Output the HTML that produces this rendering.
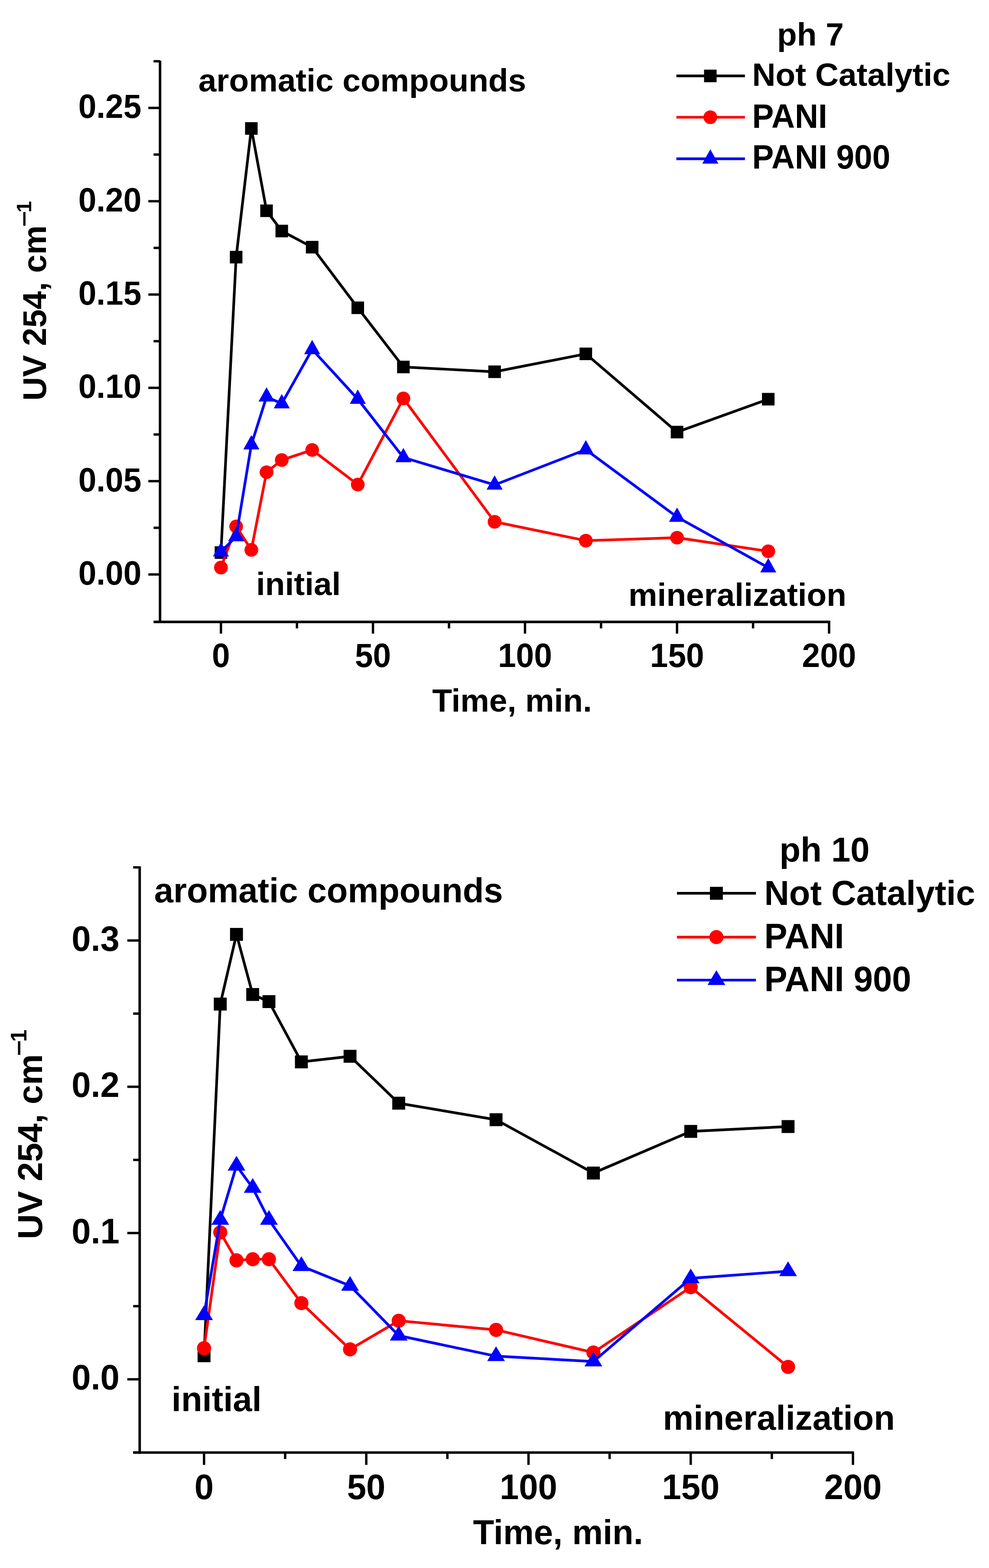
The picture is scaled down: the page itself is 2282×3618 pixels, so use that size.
<!DOCTYPE html>
<html><head><meta charset="utf-8"><title>UV 254 vs Time</title>
<style>
html,body{margin:0;padding:0;background:#fff;}
svg{display:block;}
text{font-family:"Liberation Sans", Arial, sans-serif;font-weight:bold;fill:#000;}
</style></head>
<body>
<svg width="2282" height="3618" viewBox="0 0 2282 3618">
<rect width="2282" height="3618" fill="#fff"/>
<g style="font-size:74.8px"><line x1="369.3" y1="140" x2="369.3" y2="1437.9" stroke="#000" stroke-width="5.8"/>
<line x1="354.3" y1="1435" x2="1915.9" y2="1435" stroke="#000" stroke-width="5.8"/>
<line x1="342.3" y1="1325.50" x2="369.3" y2="1325.50" stroke="#000" stroke-width="5.5"/>
<text transform="translate(326.3,1348.80) scale(1,1.05)" text-anchor="end">0.00</text>
<line x1="342.3" y1="1110.20" x2="369.3" y2="1110.20" stroke="#000" stroke-width="5.5"/>
<text transform="translate(326.3,1133.50) scale(1,1.05)" text-anchor="end">0.05</text>
<line x1="342.3" y1="894.90" x2="369.3" y2="894.90" stroke="#000" stroke-width="5.5"/>
<text transform="translate(326.3,918.20) scale(1,1.05)" text-anchor="end">0.10</text>
<line x1="342.3" y1="679.60" x2="369.3" y2="679.60" stroke="#000" stroke-width="5.5"/>
<text transform="translate(326.3,702.90) scale(1,1.05)" text-anchor="end">0.15</text>
<line x1="342.3" y1="464.30" x2="369.3" y2="464.30" stroke="#000" stroke-width="5.5"/>
<text transform="translate(326.3,487.60) scale(1,1.05)" text-anchor="end">0.20</text>
<line x1="342.3" y1="249.00" x2="369.3" y2="249.00" stroke="#000" stroke-width="5.5"/>
<text transform="translate(326.3,272.30) scale(1,1.05)" text-anchor="end">0.25</text>
<line x1="354.3" y1="1217.85" x2="369.3" y2="1217.85" stroke="#000" stroke-width="5.5"/>
<line x1="354.3" y1="1002.55" x2="369.3" y2="1002.55" stroke="#000" stroke-width="5.5"/>
<line x1="354.3" y1="787.25" x2="369.3" y2="787.25" stroke="#000" stroke-width="5.5"/>
<line x1="354.3" y1="571.95" x2="369.3" y2="571.95" stroke="#000" stroke-width="5.5"/>
<line x1="354.3" y1="356.65" x2="369.3" y2="356.65" stroke="#000" stroke-width="5.5"/>
<line x1="354.3" y1="141.35" x2="369.3" y2="141.35" stroke="#000" stroke-width="5.5"/>
<line x1="509.80" y1="1435" x2="509.80" y2="1462" stroke="#000" stroke-width="5.5"/>
<text transform="translate(509.80,1539.2) scale(1,1.05)" text-anchor="middle">0</text>
<line x1="860.60" y1="1435" x2="860.60" y2="1462" stroke="#000" stroke-width="5.5"/>
<text transform="translate(860.60,1539.2) scale(1,1.05)" text-anchor="middle">50</text>
<line x1="1211.40" y1="1435" x2="1211.40" y2="1462" stroke="#000" stroke-width="5.5"/>
<text transform="translate(1211.40,1539.2) scale(1,1.05)" text-anchor="middle">100</text>
<line x1="1562.20" y1="1435" x2="1562.20" y2="1462" stroke="#000" stroke-width="5.5"/>
<text transform="translate(1562.20,1539.2) scale(1,1.05)" text-anchor="middle">150</text>
<line x1="1913.00" y1="1435" x2="1913.00" y2="1462" stroke="#000" stroke-width="5.5"/>
<text transform="translate(1913.00,1539.2) scale(1,1.05)" text-anchor="middle">200</text>
<line x1="685.20" y1="1435" x2="685.20" y2="1450" stroke="#000" stroke-width="5.5"/>
<line x1="1036.00" y1="1435" x2="1036.00" y2="1450" stroke="#000" stroke-width="5.5"/>
<line x1="1386.80" y1="1435" x2="1386.80" y2="1450" stroke="#000" stroke-width="5.5"/>
<line x1="1737.60" y1="1435" x2="1737.60" y2="1450" stroke="#000" stroke-width="5.5"/>
<polyline points="509.80,1275.00 544.88,593.30 579.96,296.40 615.04,486.30 650.12,533.10 720.28,570.30 825.52,710.20 930.76,846.80 1141.24,857.80 1351.72,816.50 1562.20,997.00 1772.68,921.10" fill="none" stroke="#000" stroke-width="6.2" stroke-linejoin="miter"/>
<rect x="495.30" y="1260.50" width="29" height="29" fill="#000"/>
<rect x="530.38" y="578.80" width="29" height="29" fill="#000"/>
<rect x="565.46" y="281.90" width="29" height="29" fill="#000"/>
<rect x="600.54" y="471.80" width="29" height="29" fill="#000"/>
<rect x="635.62" y="518.60" width="29" height="29" fill="#000"/>
<rect x="705.78" y="555.80" width="29" height="29" fill="#000"/>
<rect x="811.02" y="695.70" width="29" height="29" fill="#000"/>
<rect x="916.26" y="832.30" width="29" height="29" fill="#000"/>
<rect x="1126.74" y="843.30" width="29" height="29" fill="#000"/>
<rect x="1337.22" y="802.00" width="29" height="29" fill="#000"/>
<rect x="1547.70" y="982.50" width="29" height="29" fill="#000"/>
<rect x="1758.18" y="906.60" width="29" height="29" fill="#000"/>
<polyline points="509.80,1309.60 544.88,1214.80 579.96,1268.80 615.04,1089.70 650.12,1061.50 720.28,1038.30 825.52,1118.10 930.76,919.40 1141.24,1204.00 1351.72,1247.50 1562.20,1240.70 1772.68,1272.00" fill="none" stroke="#f00" stroke-width="6.2" stroke-linejoin="miter"/>
<circle cx="509.80" cy="1309.60" r="15.8" fill="#f00"/>
<circle cx="544.88" cy="1214.80" r="15.8" fill="#f00"/>
<circle cx="579.96" cy="1268.80" r="15.8" fill="#f00"/>
<circle cx="615.04" cy="1089.70" r="15.8" fill="#f00"/>
<circle cx="650.12" cy="1061.50" r="15.8" fill="#f00"/>
<circle cx="720.28" cy="1038.30" r="15.8" fill="#f00"/>
<circle cx="825.52" cy="1118.10" r="15.8" fill="#f00"/>
<circle cx="930.76" cy="919.40" r="15.8" fill="#f00"/>
<circle cx="1141.24" cy="1204.00" r="15.8" fill="#f00"/>
<circle cx="1351.72" cy="1247.50" r="15.8" fill="#f00"/>
<circle cx="1562.20" cy="1240.70" r="15.8" fill="#f00"/>
<circle cx="1772.68" cy="1272.00" r="15.8" fill="#f00"/>
<polyline points="509.80,1273.00 544.88,1238.00 579.96,1026.00 615.04,915.50 650.12,931.30 720.28,806.20 825.52,920.80 930.76,1055.60 1141.24,1118.80 1351.72,1037.40 1562.20,1192.90 1772.68,1309.80" fill="none" stroke="#00f" stroke-width="6.2" stroke-linejoin="miter"/>
<path d="M509.80,1251.00 L528.30,1284.00 L491.30,1284.00 Z" fill="#00f"/>
<path d="M544.88,1216.00 L563.38,1249.00 L526.38,1249.00 Z" fill="#00f"/>
<path d="M579.96,1004.00 L598.46,1037.00 L561.46,1037.00 Z" fill="#00f"/>
<path d="M615.04,893.50 L633.54,926.50 L596.54,926.50 Z" fill="#00f"/>
<path d="M650.12,909.30 L668.62,942.30 L631.62,942.30 Z" fill="#00f"/>
<path d="M720.28,784.20 L738.78,817.20 L701.78,817.20 Z" fill="#00f"/>
<path d="M825.52,898.80 L844.02,931.80 L807.02,931.80 Z" fill="#00f"/>
<path d="M930.76,1033.60 L949.26,1066.60 L912.26,1066.60 Z" fill="#00f"/>
<path d="M1141.24,1096.80 L1159.74,1129.80 L1122.74,1129.80 Z" fill="#00f"/>
<path d="M1351.72,1015.40 L1370.22,1048.40 L1333.22,1048.40 Z" fill="#00f"/>
<path d="M1562.20,1170.90 L1580.70,1203.90 L1543.70,1203.90 Z" fill="#00f"/>
<path d="M1772.68,1287.80 L1791.18,1320.80 L1754.18,1320.80 Z" fill="#00f"/>
<line x1="1560.7" y1="175.2" x2="1718.8" y2="175.2" stroke="#000" stroke-width="6.2"/>
<rect x="1624.50" y="160.70" width="29" height="29" fill="#000"/>
<line x1="1560.7" y1="270.5" x2="1718.8" y2="270.5" stroke="#f00" stroke-width="6.2"/>
<circle cx="1639.00" cy="270.50" r="15.8" fill="#f00"/>
<line x1="1560.7" y1="366.4" x2="1718.8" y2="366.4" stroke="#00f" stroke-width="6.2"/>
<path d="M1639.00,344.40 L1657.50,377.40 L1620.50,377.40 Z" fill="#00f"/>
<text x="457.75" y="210.6">aromatic compounds</text>
<text x="591" y="1372.7">initial</text>
<text x="1450.1" y="1397.7">mineralization</text>
<text x="1793.1" y="105.1">ph 7</text>
<text x="1735.6" y="198.2">Not Catalytic</text>
<text transform="translate(1735.6,295) scale(1,1.05)">PANI</text>
<text transform="translate(1735.6,389.4) scale(1,1.05)">PANI 900</text>
<text x="997.25" y="1642">Time, min.</text>
<text transform="translate(106,924.6) rotate(-90)" style="font-size:75.8px">UV 254, cm</text>
<text transform="translate(72,523.5) rotate(-90) scale(1.32,1)" style="font-size:48px">&#8722;</text>
<text transform="translate(72,490.5) rotate(-90)" style="font-size:48px">1</text></g>
<g style="font-size:79.6px"><line x1="322.3" y1="1999" x2="322.3" y2="3354.5" stroke="#000" stroke-width="5.8"/>
<line x1="307.3" y1="3351.6" x2="1970.3000000000002" y2="3351.6" stroke="#000" stroke-width="5.8"/>
<line x1="293.8" y1="3182.60" x2="322.3" y2="3182.60" stroke="#000" stroke-width="5.5"/>
<text transform="translate(275.8,3206.20) scale(1,1.03)" text-anchor="end">0.0</text>
<line x1="293.8" y1="2845.10" x2="322.3" y2="2845.10" stroke="#000" stroke-width="5.5"/>
<text transform="translate(275.8,2868.70) scale(1,1.03)" text-anchor="end">0.1</text>
<line x1="293.8" y1="2507.60" x2="322.3" y2="2507.60" stroke="#000" stroke-width="5.5"/>
<text transform="translate(275.8,2531.20) scale(1,1.03)" text-anchor="end">0.2</text>
<line x1="293.8" y1="2170.10" x2="322.3" y2="2170.10" stroke="#000" stroke-width="5.5"/>
<text transform="translate(275.8,2193.70) scale(1,1.03)" text-anchor="end">0.3</text>
<line x1="307.3" y1="3351.35" x2="322.3" y2="3351.35" stroke="#000" stroke-width="5.5"/>
<line x1="307.3" y1="3013.85" x2="322.3" y2="3013.85" stroke="#000" stroke-width="5.5"/>
<line x1="307.3" y1="2676.35" x2="322.3" y2="2676.35" stroke="#000" stroke-width="5.5"/>
<line x1="307.3" y1="2338.85" x2="322.3" y2="2338.85" stroke="#000" stroke-width="5.5"/>
<line x1="307.3" y1="2001.35" x2="322.3" y2="2001.35" stroke="#000" stroke-width="5.5"/>
<line x1="470.80" y1="3351.6" x2="470.80" y2="3380.1" stroke="#000" stroke-width="5.5"/>
<text transform="translate(470.80,3458.7) scale(1,1.03)" text-anchor="middle">0</text>
<line x1="845.12" y1="3351.6" x2="845.12" y2="3380.1" stroke="#000" stroke-width="5.5"/>
<text transform="translate(845.12,3458.7) scale(1,1.03)" text-anchor="middle">50</text>
<line x1="1219.45" y1="3351.6" x2="1219.45" y2="3380.1" stroke="#000" stroke-width="5.5"/>
<text transform="translate(1219.45,3458.7) scale(1,1.03)" text-anchor="middle">100</text>
<line x1="1593.78" y1="3351.6" x2="1593.78" y2="3380.1" stroke="#000" stroke-width="5.5"/>
<text transform="translate(1593.78,3458.7) scale(1,1.03)" text-anchor="middle">150</text>
<line x1="1968.10" y1="3351.6" x2="1968.10" y2="3380.1" stroke="#000" stroke-width="5.5"/>
<text transform="translate(1968.10,3458.7) scale(1,1.03)" text-anchor="middle">200</text>
<line x1="657.96" y1="3351.6" x2="657.96" y2="3366.6" stroke="#000" stroke-width="5.5"/>
<line x1="1032.29" y1="3351.6" x2="1032.29" y2="3366.6" stroke="#000" stroke-width="5.5"/>
<line x1="1406.61" y1="3351.6" x2="1406.61" y2="3366.6" stroke="#000" stroke-width="5.5"/>
<line x1="1780.94" y1="3351.6" x2="1780.94" y2="3366.6" stroke="#000" stroke-width="5.5"/>
<polyline points="470.80,3128.30 508.23,2316.80 545.66,2156.00 583.10,2294.70 620.53,2311.10 695.39,2450.20 807.69,2437.30 919.99,2545.50 1144.59,2583.60 1369.18,2706.70 1593.78,2610.60 1818.37,2599.40" fill="none" stroke="#000" stroke-width="6.2" stroke-linejoin="miter"/>
<rect x="455.90" y="3113.40" width="29.8" height="29.8" fill="#000"/>
<rect x="493.33" y="2301.90" width="29.8" height="29.8" fill="#000"/>
<rect x="530.76" y="2141.10" width="29.8" height="29.8" fill="#000"/>
<rect x="568.20" y="2279.80" width="29.8" height="29.8" fill="#000"/>
<rect x="605.63" y="2296.20" width="29.8" height="29.8" fill="#000"/>
<rect x="680.50" y="2435.30" width="29.8" height="29.8" fill="#000"/>
<rect x="792.79" y="2422.40" width="29.8" height="29.8" fill="#000"/>
<rect x="905.09" y="2530.60" width="29.8" height="29.8" fill="#000"/>
<rect x="1129.68" y="2568.70" width="29.8" height="29.8" fill="#000"/>
<rect x="1354.28" y="2691.80" width="29.8" height="29.8" fill="#000"/>
<rect x="1578.88" y="2595.70" width="29.8" height="29.8" fill="#000"/>
<rect x="1803.47" y="2584.50" width="29.8" height="29.8" fill="#000"/>
<polyline points="470.80,3110.90 508.23,2843.60 545.66,2908.10 583.10,2905.50 620.53,2905.50 695.39,3006.80 807.69,3113.50 919.99,3047.50 1144.59,3068.60 1369.18,3120.80 1593.78,2970.00 1818.37,3154.00" fill="none" stroke="#f00" stroke-width="6.2" stroke-linejoin="miter"/>
<circle cx="470.80" cy="3110.90" r="16.3" fill="#f00"/>
<circle cx="508.23" cy="2843.60" r="16.3" fill="#f00"/>
<circle cx="545.66" cy="2908.10" r="16.3" fill="#f00"/>
<circle cx="583.10" cy="2905.50" r="16.3" fill="#f00"/>
<circle cx="620.53" cy="2905.50" r="16.3" fill="#f00"/>
<circle cx="695.39" cy="3006.80" r="16.3" fill="#f00"/>
<circle cx="807.69" cy="3113.50" r="16.3" fill="#f00"/>
<circle cx="919.99" cy="3047.50" r="16.3" fill="#f00"/>
<circle cx="1144.59" cy="3068.60" r="16.3" fill="#f00"/>
<circle cx="1369.18" cy="3120.80" r="16.3" fill="#f00"/>
<circle cx="1593.78" cy="2970.00" r="16.3" fill="#f00"/>
<circle cx="1818.37" cy="3154.00" r="16.3" fill="#f00"/>
<polyline points="470.80,3034.60 508.23,2814.70 545.66,2689.60 583.10,2741.00 620.53,2814.70 695.39,2921.40 807.69,2966.90 919.99,3081.80 1144.59,3129.20 1369.18,3141.50 1593.78,2949.60 1818.37,2933.20" fill="none" stroke="#00f" stroke-width="6.2" stroke-linejoin="miter"/>
<path d="M470.80,3011.93 L491.30,3045.93 L450.30,3045.93 Z" fill="#00f"/>
<path d="M508.23,2792.03 L528.73,2826.03 L487.73,2826.03 Z" fill="#00f"/>
<path d="M545.66,2666.93 L566.16,2700.93 L525.16,2700.93 Z" fill="#00f"/>
<path d="M583.10,2718.33 L603.60,2752.33 L562.60,2752.33 Z" fill="#00f"/>
<path d="M620.53,2792.03 L641.03,2826.03 L600.03,2826.03 Z" fill="#00f"/>
<path d="M695.39,2898.73 L715.89,2932.73 L674.89,2932.73 Z" fill="#00f"/>
<path d="M807.69,2944.23 L828.19,2978.23 L787.19,2978.23 Z" fill="#00f"/>
<path d="M919.99,3059.13 L940.49,3093.13 L899.49,3093.13 Z" fill="#00f"/>
<path d="M1144.59,3106.53 L1165.09,3140.53 L1124.09,3140.53 Z" fill="#00f"/>
<path d="M1369.18,3118.83 L1389.68,3152.83 L1348.68,3152.83 Z" fill="#00f"/>
<path d="M1593.78,2926.93 L1614.28,2960.93 L1573.28,2960.93 Z" fill="#00f"/>
<path d="M1818.37,2910.53 L1838.87,2944.53 L1797.87,2944.53 Z" fill="#00f"/>
<line x1="1562" y1="2061.2" x2="1744.2" y2="2061.2" stroke="#000" stroke-width="6.2"/>
<rect x="1638.10" y="2046.30" width="29.8" height="29.8" fill="#000"/>
<line x1="1562" y1="2162.3" x2="1744.2" y2="2162.3" stroke="#f00" stroke-width="6.2"/>
<circle cx="1653.00" cy="2162.30" r="16.3" fill="#f00"/>
<line x1="1562" y1="2261.5" x2="1744.2" y2="2261.5" stroke="#00f" stroke-width="6.2"/>
<path d="M1653.00,2238.83 L1673.50,2272.83 L1632.50,2272.83 Z" fill="#00f"/>
<text x="355.7" y="2082.1">aromatic compounds</text>
<text x="395.8" y="3256.2">initial</text>
<text x="1529.6" y="3299">mineralization</text>
<text x="1798.6" y="1987.9">ph 10</text>
<text x="1763.4" y="2088">Not Catalytic</text>
<text transform="translate(1763.4,2188.2) scale(1,1.03)">PANI</text>
<text transform="translate(1763.4,2286.9) scale(1,1.03)">PANI 900</text>
<text x="1091.6" y="3563">Time, min.</text>
<text transform="translate(97,2859.2) rotate(-90)" style="font-size:80px">UV 254, cm</text>
<text transform="translate(61,2436.5) rotate(-90) scale(1.23,1)" style="font-size:51px">&#8722;</text>
<text transform="translate(61,2404) rotate(-90)" style="font-size:51px">1</text></g>
</svg>
</body></html>
